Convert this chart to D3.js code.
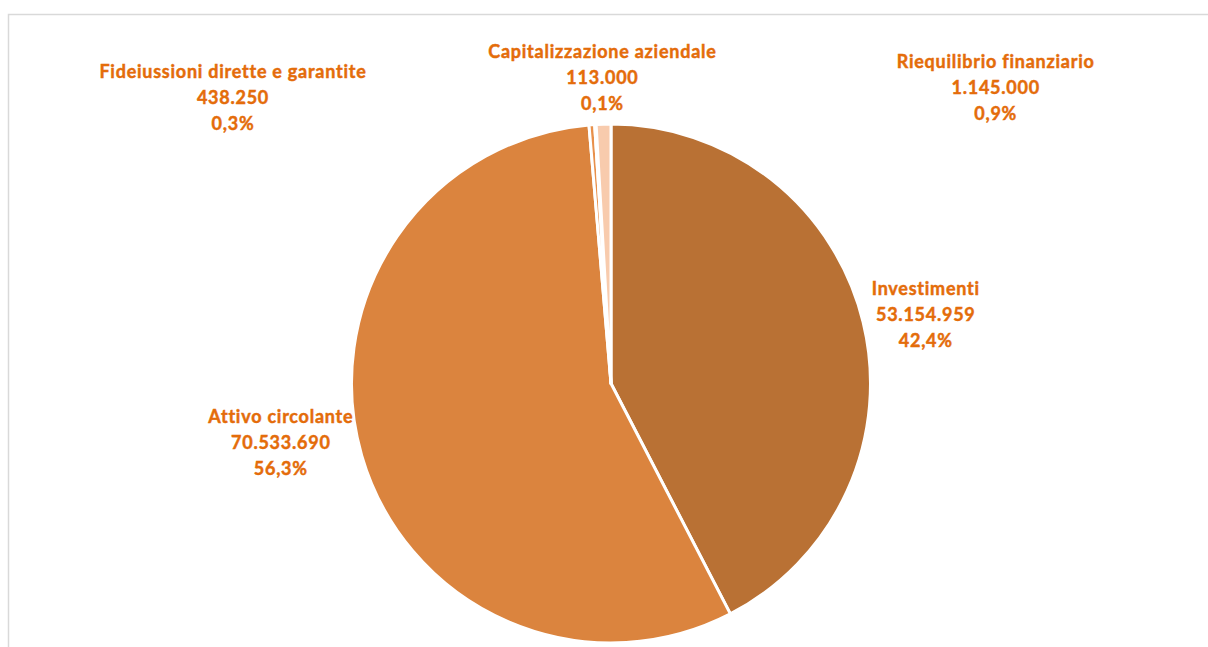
<!DOCTYPE html>
<html>
<head>
<meta charset="utf-8">
<script src="https://cdn.jsdelivr.net/npm/d3@7"></script>
<style>
  body { margin: 0; background: #fff; overflow: hidden; }
  svg text { font-family: Lato, "Open Sans", sans-serif; font-weight: bold; }
</style>
</head>
<body>
<div id="chart"></div>
<script>
// slice data, in the order Excel draws them (clockwise from 12 o'clock)
var categories = ["Investimenti", "Attivo circolante", "Fideiussioni dirette e garantite", "Capitalizzazione aziendale", "Riequilibrio finanziario"];
var values = [53154959, 70533690, 438250, 113000, 1145000];
var sliceColors = ["#b97134", "#db843e", "#e8904b", "#f4b183", "#f8cbad"];

// label nudges (px) from the outer label ring, Excel put them by hand
var labelNudge = [[-1, 8], [-18, -31], [-354, 38], [11, 19], [394, 29]];

var width = 1208, height = 647;
var cx = 611, cy = 383.5, radius = 259.5;
var labelRadius = 325;

var svg = d3.select('#chart').append('svg')
  .attr('width', width)
  .attr('height', height);

// chart area frame (right and bottom run off the page)
svg.append('rect')
  .attr('x', 8.5).attr('y', 14.5)
  .attr('width', 1220).attr('height', 660)
  .attr('fill', 'none')
  .attr('stroke', '#d9d9d9')
  .attr('stroke-width', 1.5);

var data = categories.map(function(c, i){ return {name: c, value: values[i]}; });
var total = d3.sum(values);

var pie = d3.pie()
  .sort(null)
  .value(function(d){ return d.value; });

var arc = d3.arc()
  .innerRadius(0)
  .outerRadius(radius);

var labelArc = d3.arc()
  .innerRadius(labelRadius)
  .outerRadius(labelRadius);

var g = svg.append('g')
  .attr('transform', 'translate(' + cx + ',' + cy + ')');

var arcs = pie(data);

g.selectAll('path')
  .data(arcs)
  .enter().append('path')
  .attr('d', arc)
  .attr('fill', function(d, i){ return sliceColors[i]; })
  .attr('stroke', '#fff')
  .attr('stroke-width', 3)
  .attr('stroke-linejoin', 'round');

var fmtNum = function(v){ return d3.format(',')(v).replace(/,/g, '.'); };
var fmtPct = function(v){ return d3.format('.1%')(v).replace('.', ','); };

// labels: name, amount, share
var labels = g.selectAll('.lbl')
  .data(arcs)
  .enter().append('text')
  .attr('class', 'lbl')
  .attr('text-anchor', 'middle')
  .attr('fill', '#e46c0a')
  .attr('stroke', '#e46c0a')
  .attr('stroke-width', 0.45)
  .attr('font-size', '18px')
  .attr('letter-spacing', '0.75px')
  .attr('transform', function(d, i){
    var c = labelArc.centroid(d);
    return 'translate(' + (c[0] + labelNudge[i][0]) + ',' + (c[1] + labelNudge[i][1]) + ')';
  });

labels.each(function(d){
  var t = d3.select(this);
  var lines = [d.data.name, fmtNum(d.data.value), fmtPct(d.data.value / total)];
  lines.forEach(function(s, k){
    t.append('tspan')
      .attr('x', 0)
      .attr('y', (k - 1) * 26)
      .attr('dy', '0.35em')
      .text(s);
  });
});
</script>
</body>
</html>
